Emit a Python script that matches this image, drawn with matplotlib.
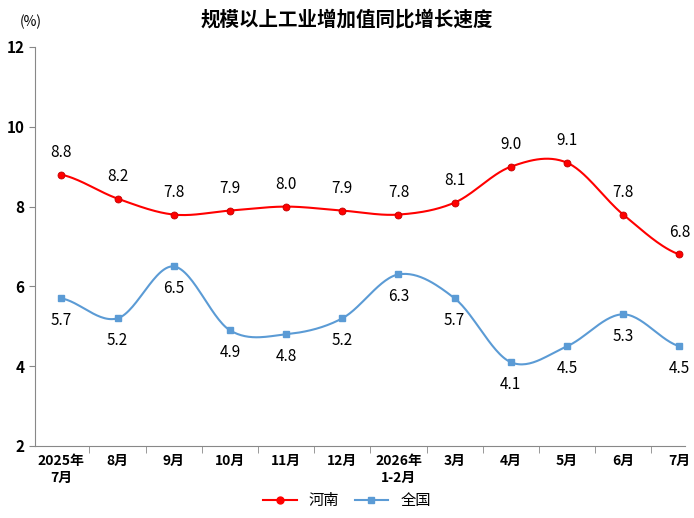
import matplotlib
matplotlib.use("Agg")
import matplotlib.pyplot as plt
import numpy as np

plt.rcParams['font.family'] = ['Noto Sans CJK SC', 'DejaVu Sans']

labels = ["2025年\n7月", "8月", "9月", "10月", "11月", "12月", "2026年\n1-2月",
          "3月", "4月", "5月", "6月", "7月"]
henan = [8.8, 8.2, 7.8, 7.9, 8.0, 7.9, 7.8, 8.1, 9.0, 9.1, 7.8, 6.8]
quanguo = [5.7, 5.2, 6.5, 4.9, 4.8, 5.2, 6.3, 5.7, 4.1, 4.5, 5.3, 4.5]


def smooth(y, n=30):
    # catmull-rom through the points, only for drawing the curve
    y = np.asarray(y, float)
    p = np.concatenate([[y[0]], y, [y[-1]]])
    xs, ys = [], []
    for i in range(len(y) - 1):
        t = np.linspace(0, 1, n, endpoint=False)
        p0, p1, p2, p3 = p[i], p[i + 1], p[i + 2], p[i + 3]
        v = 0.5 * (2 * p1 + (-p0 + p2) * t + (2 * p0 - 5 * p1 + 4 * p2 - p3) * t ** 2
                   + (-p0 + 3 * p1 - 3 * p2 + p3) * t ** 3)
        xs.append(i + t)
        ys.append(v)
    xs.append([len(y) - 1])
    ys.append([y[-1]])
    return np.concatenate(xs), np.concatenate(ys)


fig = plt.figure(figsize=(6.94, 5.18), dpi=100)
ax = fig.add_axes([35 / 694, 72 / 518, 650 / 694, 399 / 518])
x = np.arange(len(labels))

red = "#ff0000"
blue = "#5b9bd5"
sx, sy = smooth(henan)
ax.plot(sx, sy, color=red, lw=1.5, clip_on=False)
ax.plot(x, henan, 'o', color=red, ms=5, markeredgecolor="#c00000", markeredgewidth=0.6, clip_on=False)
sx, sy = smooth(quanguo)
ax.plot(sx, sy, color=blue, lw=1.5, clip_on=False)
ax.plot(x, quanguo, 's', color=blue, ms=5, clip_on=False)

for i, v in enumerate(henan):
    ax.text(i, v + 0.35, f"{v:.1f}", ha='center', va='bottom', fontsize=11)
for i, v in enumerate(quanguo):
    ax.text(i, v - 0.35, f"{v:.1f}", ha='center', va='top', fontsize=11)

ax.set_xlim(-0.47, 11.1)
ax.set_ylim(2, 12)
ax.set_yticks(range(2, 13, 2))
ax.set_xticks(x)
ax.set_xticklabels(labels, fontsize=10, fontweight='bold', va='top')
ax.set_xticks(np.arange(0.5, 11, 1), minor=True)
ax.tick_params(axis='x', which='major', length=0, pad=6)
ax.tick_params(axis='x', which='minor', length=5, color='#888888')
ax.tick_params(axis='y', labelsize=11, length=4, color='#888888')
for lab in ax.get_yticklabels():
    lab.set_fontweight('bold')
for s in ax.spines.values():
    s.set_color('#888888')
ax.spines['top'].set_visible(False)
ax.spines['right'].set_visible(False)

fig.text(20 / 694, 1 - 22 / 518, "(%)", fontsize=10, ha='left', va='center')
fig.suptitle("规模以上工业增加值同比增长速度", y=1 - 20 / 518, fontsize=14, fontweight='bold', va='center')
fig.legend(loc='lower center', ncol=2, frameon=False, fontsize=11, bbox_to_anchor=(0.5, -0.01),
           columnspacing=1.0, handlelength=2.2,
           handles=[plt.Line2D([], [], color=red, marker='o', lw=1.5, ms=5),
                    plt.Line2D([], [], color=blue, marker='s', lw=1.5, ms=5)],
           labels=["河南", "全国"])

fig.savefig("out.png", dpi=100)
